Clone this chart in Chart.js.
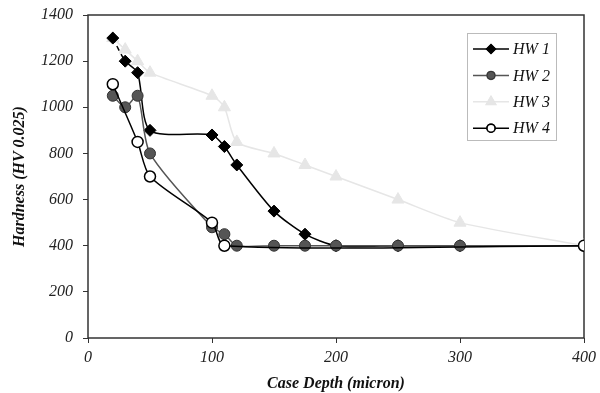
<!DOCTYPE html>
<html>
<head>
<meta charset="utf-8">
<script src="https://cdn.jsdelivr.net/npm/chart.js@4.4.1/dist/chart.umd.min.js"></script>
<style>
  html, body { margin: 0; padding: 0; background: #fff; }
  #wrap { width: 600px; height: 393px; }
</style>
</head>
<body>
<div id="wrap"><canvas id="hardnessChart" width="600" height="393"></canvas></div>
<script>
// case depth (micron) and hardness (HV 0.025)
const seriesNames = ['HW 1', 'HW 2', 'HW 3', 'HW 4'];

const depthHW1 = [20, 30, 40, 50, 100, 110, 120, 150, 175, 200, 250, 300, 400];
const hardHW1  = [1300, 1200, 1150, 900, 880, 830, 750, 550, 450, 400, 400, 400, 400];

const depthHW2 = [20, 30, 40, 50, 100, 110, 120, 150, 175, 200, 250, 300, 400];
const hardHW2  = [1050, 1000, 1050, 800, 480, 450, 400, 400, 400, 400, 400, 400, 400];

const depthHW3 = [20, 30, 40, 50, 100, 110, 120, 150, 175, 200, 250, 300, 400];
const hardHW3  = [1300, 1250, 1200, 1150, 1050, 1000, 850, 800, 750, 700, 600, 500, 400];

const depthHW4 = [20, 40, 50, 100, 110, 400];
const hardHW4  = [1100, 850, 700, 500, 400, 400];

const xTicks = [0, 100, 200, 300, 400];
const yTicks = [0, 200, 400, 600, 800, 1000, 1200, 1400];

const serif = "'Liberation Serif', 'Times New Roman', serif";

function toPoints(xs, ys) {
  return xs.map((x, i) => ({ x: x, y: ys[i] }));
}

// frame round the plot area
const framePlugin = {
  id: 'frame',
  beforeDatasetsDraw(chart) {
    const a = chart.chartArea;
    const ctx = chart.ctx;
    ctx.save();
    ctx.strokeStyle = '#333';
    ctx.lineWidth = 1.5;
    ctx.strokeRect(a.left, a.top, a.right - a.left, a.bottom - a.top);
    ctx.restore();
  }
};

// boxed legend in the upper right corner
const boxLegend = {
  id: 'boxLegend',
  afterDatasetsDraw(chart) {
    const ctx = chart.ctx;
    const bx = 467, by = 33, bw = 89, bh = 107;
    ctx.save();
    ctx.fillStyle = '#fff';
    ctx.fillRect(bx, by, bw, bh);
    ctx.strokeStyle = '#bbb';
    ctx.lineWidth = 1;
    ctx.strokeRect(bx + 0.5, by + 0.5, bw, bh);
    chart.data.datasets.forEach((ds, i) => {
      const y = 49 + i * 26.4;
      ctx.strokeStyle = ds.borderColor;
      ctx.lineWidth = 1.5;
      ctx.beginPath();
      ctx.moveTo(473, y);
      ctx.lineTo(509, y);
      ctx.stroke();
      Chart.helpers.drawPoint(ctx, {
        pointStyle: ds.pointStyle,
        radius: ds.pointRadius - 1.5,
        borderWidth: ds.pointBorderWidth
      }, 491, y);
      ctx.fillStyle = ds.pointBackgroundColor;
      ctx.strokeStyle = ds.pointBorderColor;
      ctx.lineWidth = ds.pointBorderWidth;
      ctx.fill();
      ctx.stroke();
      ctx.fillStyle = '#111';
      ctx.font = 'italic 16px ' + serif;
      ctx.textBaseline = 'middle';
      ctx.fillText(ds.label, 513, y + 1);
    });
    ctx.restore();
  }
};

const data = {
  datasets: [
    {
      label: seriesNames[0],
      data: toPoints(depthHW1, hardHW1),
      borderColor: '#000',
      borderWidth: 1.5,
      pointStyle: 'rectRot',
      pointRadius: 6,
      pointBackgroundColor: '#000',
      pointBorderColor: '#000',
      pointBorderWidth: 1,
      tension: 0.25,
      order: 2,
      segment: {
        borderDash: ctx => ctx.p0DataIndex === 0 ? [5, 4] : undefined
      }
    },
    {
      label: seriesNames[1],
      data: toPoints(depthHW2, hardHW2),
      borderColor: '#555',
      borderWidth: 1.5,
      pointStyle: 'circle',
      pointRadius: 5.5,
      pointBackgroundColor: '#555',
      pointBorderColor: '#333',
      pointBorderWidth: 1,
      tension: 0.25,
      order: 1
    },
    {
      label: seriesNames[2],
      data: toPoints(depthHW3, hardHW3),
      borderColor: '#e6e6e6',
      borderWidth: 1.5,
      pointStyle: 'triangle',
      pointRadius: 7,
      pointBackgroundColor: '#e6e6e6',
      pointBorderColor: '#e6e6e6',
      pointBorderWidth: 1,
      tension: 0.25,
      order: 3
    },
    {
      label: seriesNames[3],
      data: toPoints(depthHW4, hardHW4),
      borderColor: '#000',
      borderWidth: 1.5,
      pointStyle: 'circle',
      pointRadius: 5.5,
      pointBackgroundColor: '#fff',
      pointBorderColor: '#000',
      pointBorderWidth: 1.5,
      tension: 0.25,
      order: 0
    }
  ]
};

const config = {
  type: 'line',
  data: data,
  options: {
    responsive: false,
    animation: false,
    devicePixelRatio: 1,
    layout: { padding: { left: 0, right: 16, top: 15, bottom: 0 } },
    plugins: {
      legend: { display: false },
      tooltip: { enabled: false }
    },
    scales: {
      x: {
        type: 'linear',
        min: 0,
        max: 400,
        afterBuildTicks: axis => { axis.ticks = xTicks.map(v => ({ value: v })); },
        afterFit: axis => {
          axis.height = 55;
          axis.paddingLeft = 0;
          axis.paddingRight = 0;
        },
        grid: { display: true, drawOnChartArea: false, drawTicks: true, tickLength: 5, color: '#333' },
        border: { display: false },
        ticks: {
          color: '#222',
          font: { family: serif, size: 16, style: 'italic' },
          padding: 5,
          maxRotation: 0,
          callback: value => String(value)
        },
        title: {
          display: true,
          text: 'Case Depth (micron)',
          color: '#111',
          font: { family: serif, size: 16, style: 'italic', weight: 'bold' },
          padding: { top: 0, bottom: 0 }
        }
      },
      y: {
        min: 0,
        max: 1400,
        afterBuildTicks: axis => { axis.ticks = yTicks.map(v => ({ value: v })); },
        afterFit: axis => {
          axis.width = 88;
          axis.paddingTop = 0;
          axis.paddingBottom = 0;
        },
        grid: { display: true, drawOnChartArea: false, drawTicks: true, tickLength: 5, color: '#333' },
        border: { display: false },
        ticks: {
          color: '#222',
          font: { family: serif, size: 16, style: 'italic' },
          padding: 10,
          callback: value => String(value)
        },
        title: {
          display: true,
          text: 'Hardness (HV 0.025)',
          color: '#111',
          font: { family: serif, size: 16, style: 'italic', weight: 'bold' },
          padding: { top: 10, bottom: 4 }
        }
      }
    }
  },
  plugins: [framePlugin, boxLegend]
};

const hardnessChart = new Chart(document.getElementById('hardnessChart'), config);
</script>
</body>
</html>
